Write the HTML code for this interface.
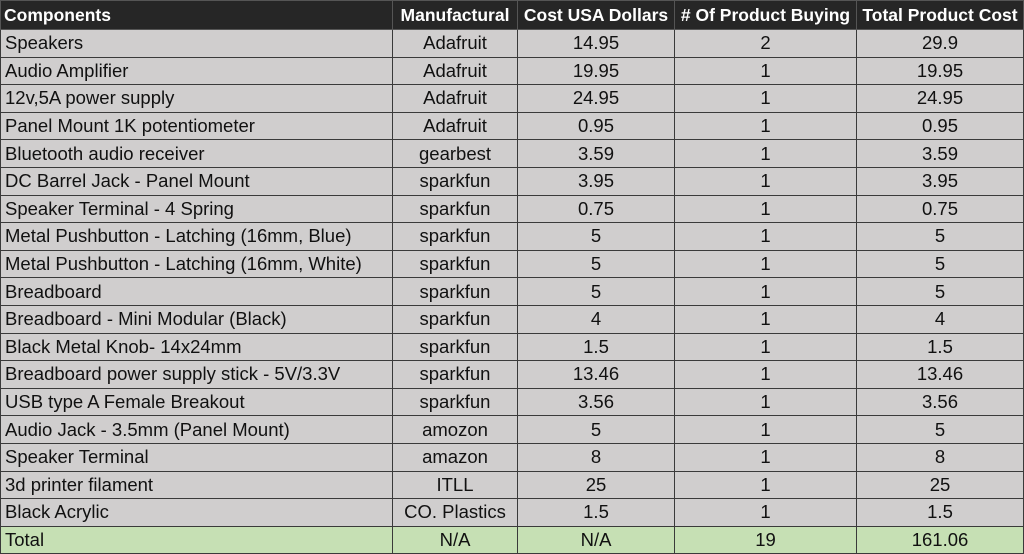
<!DOCTYPE html>
<html><head><meta charset="utf-8"><style>
body{margin:0;width:1024px;height:554px;overflow:hidden;background:#d0cece}
table{border-collapse:collapse;table-layout:fixed;width:1023px;font-family:"Liberation Sans",sans-serif;font-size:18.5px;color:#111}
td{border:1px solid #3a3a3a;height:26.6px;padding:0 4px;text-align:center;white-space:nowrap;overflow:hidden;background:#d0cece}
td:first-child{text-align:left}
tr.h td{background:#262626;color:#fff;font-weight:bold;height:28px;border-color:#555;font-size:17.5px;padding:0 3px}
tr.t td{background:#c6e0b4}
</style></head><body>
<table>
<colgroup><col style="width:392px"><col style="width:125px"><col style="width:157px"><col style="width:182px"><col style="width:167px"></colgroup>
<tr class="h"><td>Components</td><td>Manufactural</td><td>Cost USA Dollars</td><td># Of Product Buying</td><td>Total Product Cost</td></tr>
<tr><td>Speakers</td><td>Adafruit</td><td>14.95</td><td>2</td><td>29.9</td></tr>
<tr><td>Audio Amplifier</td><td>Adafruit</td><td>19.95</td><td>1</td><td>19.95</td></tr>
<tr><td>12v,5A power supply</td><td>Adafruit</td><td>24.95</td><td>1</td><td>24.95</td></tr>
<tr><td>Panel Mount 1K potentiometer</td><td>Adafruit</td><td>0.95</td><td>1</td><td>0.95</td></tr>
<tr><td>Bluetooth audio receiver</td><td>gearbest</td><td>3.59</td><td>1</td><td>3.59</td></tr>
<tr><td>DC Barrel Jack - Panel Mount</td><td>sparkfun</td><td>3.95</td><td>1</td><td>3.95</td></tr>
<tr><td>Speaker Terminal - 4 Spring</td><td>sparkfun</td><td>0.75</td><td>1</td><td>0.75</td></tr>
<tr><td>Metal Pushbutton - Latching (16mm, Blue)</td><td>sparkfun</td><td>5</td><td>1</td><td>5</td></tr>
<tr><td>Metal Pushbutton - Latching (16mm, White)</td><td>sparkfun</td><td>5</td><td>1</td><td>5</td></tr>
<tr><td>Breadboard</td><td>sparkfun</td><td>5</td><td>1</td><td>5</td></tr>
<tr><td>Breadboard - Mini Modular (Black)</td><td>sparkfun</td><td>4</td><td>1</td><td>4</td></tr>
<tr><td>Black Metal Knob- 14x24mm</td><td>sparkfun</td><td>1.5</td><td>1</td><td>1.5</td></tr>
<tr><td>Breadboard power supply stick - 5V/3.3V</td><td>sparkfun</td><td>13.46</td><td>1</td><td>13.46</td></tr>
<tr><td>USB type A Female Breakout</td><td>sparkfun</td><td>3.56</td><td>1</td><td>3.56</td></tr>
<tr><td>Audio Jack - 3.5mm (Panel Mount)</td><td>amozon</td><td>5</td><td>1</td><td>5</td></tr>
<tr><td>Speaker Terminal</td><td>amazon</td><td>8</td><td>1</td><td>8</td></tr>
<tr><td>3d printer filament</td><td>ITLL</td><td>25</td><td>1</td><td>25</td></tr>
<tr><td>Black Acrylic</td><td>CO. Plastics</td><td>1.5</td><td>1</td><td>1.5</td></tr>
<tr class="t"><td>Total</td><td>N/A</td><td>N/A</td><td>19</td><td>161.06</td></tr>
</table>
</body></html>
